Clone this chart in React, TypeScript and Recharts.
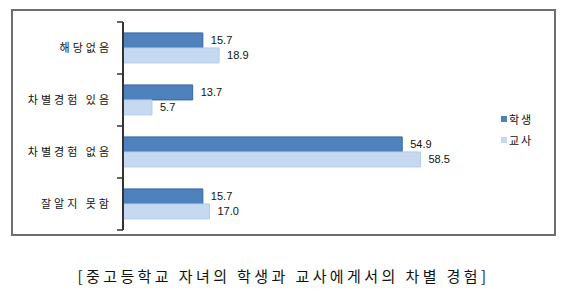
import { Bar, BarChart, LabelList, Legend, XAxis, YAxis } from 'recharts';

const categories = ['해당없음', '차별경험 있음', '차별경험 없음', '잘알지 못함'];
const studentValues = [15.7, 13.7, 54.9, 15.7];
const teacherValues = [18.9, 5.7, 58.5, 17.0];
const seriesNames = ['학생', '교사'];
const title = '[중고등학교 자녀의 학생과 교사에게서의 차별 경험]';

const data = categories.map((name, i) => ({
	name,
	student: studentValues[i],
	teacher: teacherValues[i],
}));

const TICK_SIZE = 6;
const TICK_MARGIN = 5;

// label plus the boundary tick marks (Excel style: ticks between categories)
const CategoryTick = (props: any) => {
	const { x, y, payload, index, visibleTicksCount } = props;
	const axisX = x + TICK_SIZE + TICK_MARGIN;
	const half = payload.offset || 0;
	const isLast = index === (visibleTicksCount ?? categories.length) - 1;
	return (
		<g>
			<line x1={axisX - TICK_SIZE} x2={axisX} y1={y - half} y2={y - half} stroke="#333" strokeWidth={1.5} />
			{isLast && (
				<line x1={axisX - TICK_SIZE} x2={axisX} y1={y + half} y2={y + half} stroke="#333" strokeWidth={1.5} />
			)}
			<text
				x={x}
				y={y}
				dy={4}
				textAnchor="end"
				fontSize={11}
				letterSpacing={3}
				fill="#111"
				fontFamily="'Noto Sans CJK KR', sans-serif"
			>
				{payload.value}
			</text>
		</g>
	);
};

const LegendBox = (props: any) => {
	const items = [...(props.payload || [])].sort(
		(a: any, b: any) => seriesNames.indexOf(a.value) - seriesNames.indexOf(b.value),
	);
	return (
		<div>
			{items.map((entry: any) => (
				<div key={entry.value} style={{ display: 'flex', alignItems: 'center', height: 21 }}>
					<span
						style={{
							display: 'inline-block',
							width: 6,
							height: 6,
							background: entry.color,
							marginRight: 2,
						}}
					/>
					<span
						style={{
							fontSize: 11,
							letterSpacing: 2,
							color: '#111',
							fontFamily: "'Noto Sans CJK KR', sans-serif",
						}}
					>
						{entry.value}
					</span>
				</div>
			))}
		</div>
	);
};

const labelStyle = { fontSize: 11, fill: '#111', fontFamily: "'Liberation Sans', Arial, sans-serif" };

export default function App() {
	return (
		<div
			style={{
				position: 'absolute',
				left: 0,
				top: 0,
				width: 567,
				height: 304,
				background: '#fff',
			}}
		>
			<div
				style={{
					position: 'absolute',
					left: 11,
					top: 9,
					width: 541,
					height: 223,
					border: '2px solid #6e6e6e',
				}}
			/>
			<div style={{ position: 'absolute', left: 0, top: 0 }}>
				<BarChart
					width={567}
					height={304}
					data={data}
					layout="vertical"
					margin={{ top: 22, right: 88, bottom: 74, left: 0 }}
					barCategoryGap="21%"
					barGap={0}
				>
					<XAxis type="number" domain={[0, 70]} hide />
					<YAxis
						type="category"
						dataKey="name"
						width={123}
						axisLine={{ stroke: '#333', strokeWidth: 2 }}
						tickLine={false}
						tickSize={TICK_SIZE}
						tickMargin={TICK_MARGIN}
						tick={<CategoryTick />}
					/>
					<Legend
						layout="vertical"
						align="center"
						verticalAlign="middle"
						content={<LegendBox />}
						wrapperStyle={{ left: 501, top: 108, width: 60 }}
					/>
					<Bar
						dataKey="student"
						name={seriesNames[0]}
						fill="#4F81BD"
						stroke="#3465A4"
						strokeWidth={1}
						isAnimationActive={false}
					>
						<LabelList
							dataKey="student"
							position="right"
							offset={8}
							formatter={(v: any) => Number(v).toFixed(1)}
							style={labelStyle}
						/>
					</Bar>
					<Bar
						dataKey="teacher"
						name={seriesNames[1]}
						fill="#C6D9F1"
						stroke="#B4CBEA"
						strokeWidth={1}
						isAnimationActive={false}
					>
						<LabelList
							dataKey="teacher"
							position="right"
							offset={8}
							formatter={(v: any) => Number(v).toFixed(1)}
							style={labelStyle}
						/>
					</Bar>
				</BarChart>
			</div>
			<div
				style={{
					position: 'absolute',
					left: 0,
					top: 265,
					width: 567,
					textAlign: 'center',
					fontSize: 15,
					letterSpacing: 3.4,
					color: '#111',
					fontFamily: "'Noto Sans CJK KR', sans-serif",
				}}
			>
				{title}
			</div>
		</div>
	);
}
